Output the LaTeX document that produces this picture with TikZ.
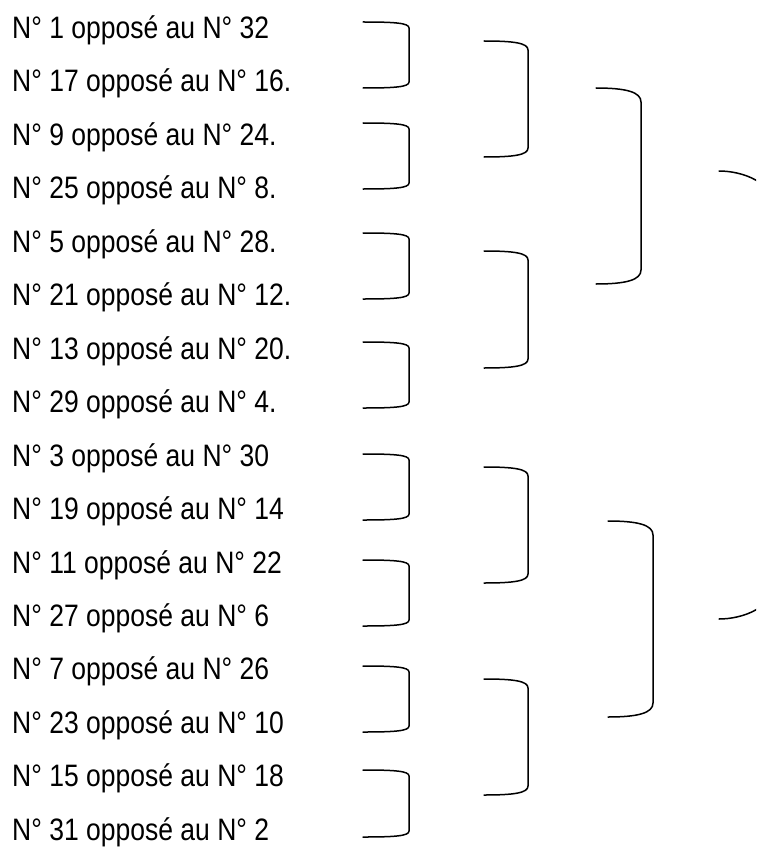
\documentclass[tikz,border=0pt]{standalone}
\usepackage{fontspec}
\setmainfont[FakeStretch=0.855]{Liberation Sans}

\begin{document}
\begin{tikzpicture}[x=1pt, y=-1pt,
  match/.style={anchor=base west, inner sep=0pt, font=\fontsize{31}{37}\selectfont},
  brk/.style={line width=1.5pt, line cap=round},
]
\useasboundingbox (0,0) rectangle (756,848);
% first round: the 16 matches
\foreach \txt [count=\i] in {N° 1 opposé au N° 32, N° 17 opposé au N° 16., N° 9 opposé au N° 24.,
    N° 25 opposé au N° 8., N° 5 opposé au N° 28., N° 21 opposé au N° 12., N° 13 opposé au N° 20.,
    N° 29 opposé au N° 4., N° 3 opposé au N° 30, N° 19 opposé au N° 14, N° 11 opposé au N° 22,
    N° 27 opposé au N° 6, N° 7 opposé au N° 26, N° 23 opposé au N° 10, N° 15 opposé au N° 18,
    N° 31 opposé au N° 2}
  \node[match] (m\i) at (12,{38.5+53.45*(\i-1)}) {\txt};
% brackets, one column per round
\foreach \t/\b in {22/88, 123/189, 233/299, 342/408, 454/520, 560/626, 666/732, 770/837}
  \draw[brk] (363,\t) .. controls (395,\t) and (409,\t+1) .. (409,\t+6)
    -- (409,\b-6) .. controls (409,\b-1) and (395,\b) .. (363,\b);
\foreach \t/\b in {41/157, 251/368, 467/583, 679/795}
  \draw[brk] (484,\t) .. controls (514,\t) and (528,\t+2) .. (528,\t+9)
    -- (528,\b-9) .. controls (528,\b-2) and (514,\b) .. (484,\b);
\foreach \l/\r/\t/\b in {596/641/88/284, 608/653/521/717}
  \draw[brk] (\l,\t) .. controls (\l+30,\t) and (\r,\t+4) .. (\r,\t+14)
    -- (\r,\b-14) .. controls (\r,\b-4) and (\l+30,\b) .. (\l,\b);
% last bracket, cut by the page edge
\begin{scope}
  \clip (0,0) rectangle (756,848);
  \draw[brk] (719,171) .. controls (742,171) and (775,182) .. (775,210)
    -- (775,580) .. controls (775,608) and (742,619) .. (719,619);
\end{scope}
\end{tikzpicture}
\end{document}
